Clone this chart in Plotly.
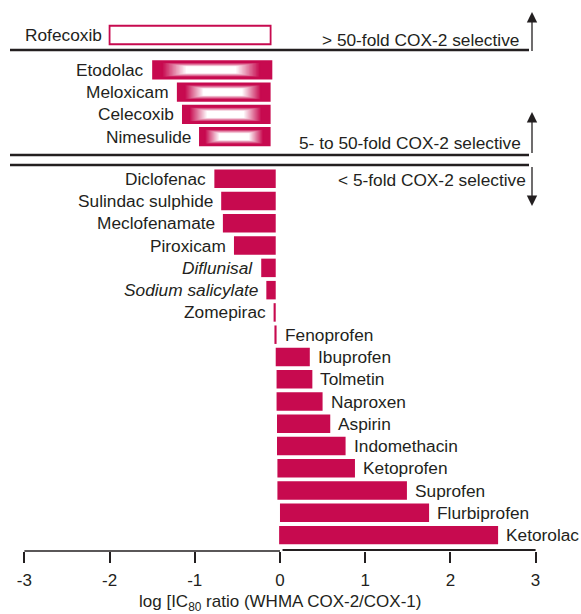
import plotly.graph_objects as go

# ---------------- data ----------------
drugs_g1 = ["Rofecoxib"]
lo_g1 = [-2.00]
hi_g1 = [-0.11]

drugs_g2 = ["Etodolac", "Meloxicam", "Celecoxib", "Nimesulide"]
lo_g2 = [-1.50, -1.21, -1.15, -0.95]
hi_g2 = [-0.09, -0.11, -0.11, -0.11]

drugs_g3 = ["Diclofenac", "Sulindac sulphide", "Meclofenamate", "Piroxicam",
            "<i>Diflunisal</i>", "<i>Sodium salicylate</i>", "Zomepirac",
            "Fenoprofen", "Ibuprofen", "Tolmetin", "Naproxen", "Aspirin",
            "Indomethacin", "Ketoprofen", "Suprofen", "Flurbiprofen", "Ketorolac"]
lo_g3 = [-0.77, -0.69, -0.67, -0.54, -0.22, -0.16, -0.075,
         -0.065, -0.05, -0.04, -0.04, -0.035, -0.035, -0.03, -0.03, 0.0, -0.01]
hi_g3 = [-0.05, -0.05, -0.05, -0.05, -0.05, -0.05, -0.05,
         -0.04, 0.35, 0.38, 0.50, 0.59, 0.77, 0.88, 1.49, 1.75, 2.56]

tick_vals = [-3, -2, -1, 0, 1, 2, 3]
tick_text = ["-3", "-2", "-1", "0", "1", "2", "3"]

section_labels = ["> 50-fold COX-2 selective", "5- to 50-fold COX-2 selective",
                  "< 5-fold COX-2 selective"]
axis_title = "log [IC<sub>80</sub> ratio (WHMA COX-2/COX-1)"

# ---------------- layout helpers ----------------
CRIMSON = "#C70A4F"
TXT = "#231F20"
FONT = "Liberation Sans, Arial, sans-serif"
FS = 17.3

W, H = 581, 614
B_MARGIN = 63
PLOT_H = H - B_MARGIN
X_RANGE = [-3.286, 3.533]
PX_PER_X = W / (X_RANGE[1] - X_RANGE[0])
ROW_PX = 22.27
FIRST_ROW_PX = 35.0
Y_RANGE = [(PLOT_H - FIRST_ROW_PX) / ROW_PX, -FIRST_ROW_PX / ROW_PX]

def px2x(px):
    return X_RANGE[0] + px / PX_PER_X

def px2y(py):
    return (py - FIRST_ROW_PX) / ROW_PX

GAP1, GAP2 = 0.565, 0.892
pos_g1 = [0.0]
pos_g2 = [pos_g1[-1] + 1 + GAP1 + i for i in range(len(drugs_g2))]
pos_g3 = [pos_g2[-1] + 1 + GAP2 + i for i in range(len(drugs_g3))]

BAR_W = 0.83
BAR_W2 = 0.87

fig = go.Figure()

# group 1: open bar
fig.add_trace(go.Bar(
    y=pos_g1, x=[h - l for l, h in zip(lo_g1, hi_g1)], base=lo_g1,
    orientation="h", width=BAR_W,
    marker=dict(color="white", line=dict(color=CRIMSON, width=1.8)),
    hoverinfo="skip", showlegend=False))

# group 2: gradient bars built from nested bars
len_g2 = [h - l for l, h in zip(lo_g2, hi_g2)]
fig.add_trace(go.Bar(
    y=pos_g2, x=len_g2, base=lo_g2, orientation="h", width=BAR_W2,
    marker=dict(color=CRIMSON, line=dict(width=0)),
    hoverinfo="skip", showlegend=False))
N = 18
c0 = (199, 10, 79)
for k in range(N):
    t = k / (N - 1)
    col = tuple(round(c0[j] + (255 - c0[j]) * t) for j in range(3))
    inset_l = [L * (0.08 + 0.20 * t) for L in len_g2]
    inset_r = [L * (0.10 + 0.20 * t) for L in len_g2]
    w = BAR_W2 * (1 - 2 * (0.13 + 0.20 * t))
    fig.add_trace(go.Bar(
        y=pos_g2,
        x=[L - a - b for L, a, b in zip(len_g2, inset_l, inset_r)],
        base=[lo + a for lo, a in zip(lo_g2, inset_l)],
        orientation="h", width=w,
        marker=dict(color="rgb(%d,%d,%d)" % col, line=dict(width=0)),
        hoverinfo="skip", showlegend=False))

# group 3: solid bars
fig.add_trace(go.Bar(
    y=pos_g3, x=[h - l for l, h in zip(lo_g3, hi_g3)], base=lo_g3,
    orientation="h", width=BAR_W,
    marker=dict(color=CRIMSON, line=dict(width=0)),
    hoverinfo="skip", showlegend=False))

annotations = []
def label(text, x, y, right):
    annotations.append(dict(
        x=x, y=y, xref="x", yref="y", text=text, showarrow=False,
        xanchor="left" if right else "right", yanchor="middle",
        xshift=6 if right else -6,
        font=dict(family=FONT, size=FS, color=TXT)))

for d, l, p in zip(drugs_g1, lo_g1, pos_g1):
    label(d, l, p, False)
for d, l, p in zip(drugs_g2, lo_g2, pos_g2):
    label(d, l, p, False)
split = drugs_g3.index("Fenoprofen")
for i, (d, l, h, p) in enumerate(zip(drugs_g3, lo_g3, hi_g3, pos_g3)):
    if i >= split:
        label(d, h, p, True)
    else:
        label(d, l, p, False)

# section separators
LINE_X0, LINE_X1 = px2x(10), px2x(529)
sep_y = [px2y(50), px2y(155), px2y(165)]
shapes = []
for yy in sep_y:
    shapes.append(dict(type="line", xref="x", yref="y", x0=LINE_X0, x1=LINE_X1,
                       y0=yy, y1=yy, line=dict(color=TXT, width=2.6)))

# section texts
sec_pos = [(px2x(521), px2y(40)), (px2x(523), px2y(143)), (px2x(528), px2y(180))]
for txt, (sx, sy) in zip(section_labels, sec_pos):
    annotations.append(dict(x=sx, y=sy, xref="x", yref="y", text=txt,
                            showarrow=False, xanchor="right", yanchor="middle",
                            font=dict(family=FONT, size=FS, color=TXT)))

# arrows
AX = px2x(532)
for tip, tail in [(12, 53), (112, 155), (206, 165)]:
    annotations.append(dict(x=AX, y=px2y(tip), ax=AX, ay=px2y(tail),
                            xref="x", yref="y", axref="x", ayref="y",
                            text=" ", showarrow=True, arrowhead=2,
                            arrowsize=1.6, arrowwidth=1.3, arrowcolor=TXT,
                            font=dict(size=1)))

# axis line (drawn as two segments from -3 to 3)
shapes.append(dict(type="line", xref="x", yref="paper", x0=-3, x1=0,
                   y0=0, y1=0, line=dict(color=TXT, width=1.5)))
shapes.append(dict(type="line", xref="x", yref="paper", x0=0.03, x1=3,
                   y0=1.0 / PLOT_H, y1=1.0 / PLOT_H, line=dict(color=TXT, width=2.2)))

# axis title
annotations.append(dict(x=0, y=-(603 - PLOT_H) / PLOT_H, xref="x", yref="paper",
                        text=axis_title, showarrow=False,
                        xanchor="center", yanchor="middle",
                        font=dict(family=FONT, size=17, color=TXT)))

fig.update_layout(
    width=W, height=H,
    margin=dict(l=0, r=0, t=0, b=B_MARGIN, pad=0),
    paper_bgcolor="white", plot_bgcolor="white",
    barmode="overlay", showlegend=False,
    xaxis=dict(range=X_RANGE, tickvals=tick_vals, ticktext=tick_text,
               ticks="outside", ticklen=11, tickwidth=1.5, tickcolor=TXT,
               showline=False, showgrid=False, zeroline=False,
               tickfont=dict(family=FONT, size=17, color=TXT),
               ticklabelstandoff=3, fixedrange=True),
    yaxis=dict(range=Y_RANGE, visible=False, fixedrange=True),
    annotations=annotations, shapes=shapes,
)

fig.write_html("out.html", config={"displayModeBar": False},
               post_script="document.body.style.margin='0';document.body.style.overflow='hidden';")
